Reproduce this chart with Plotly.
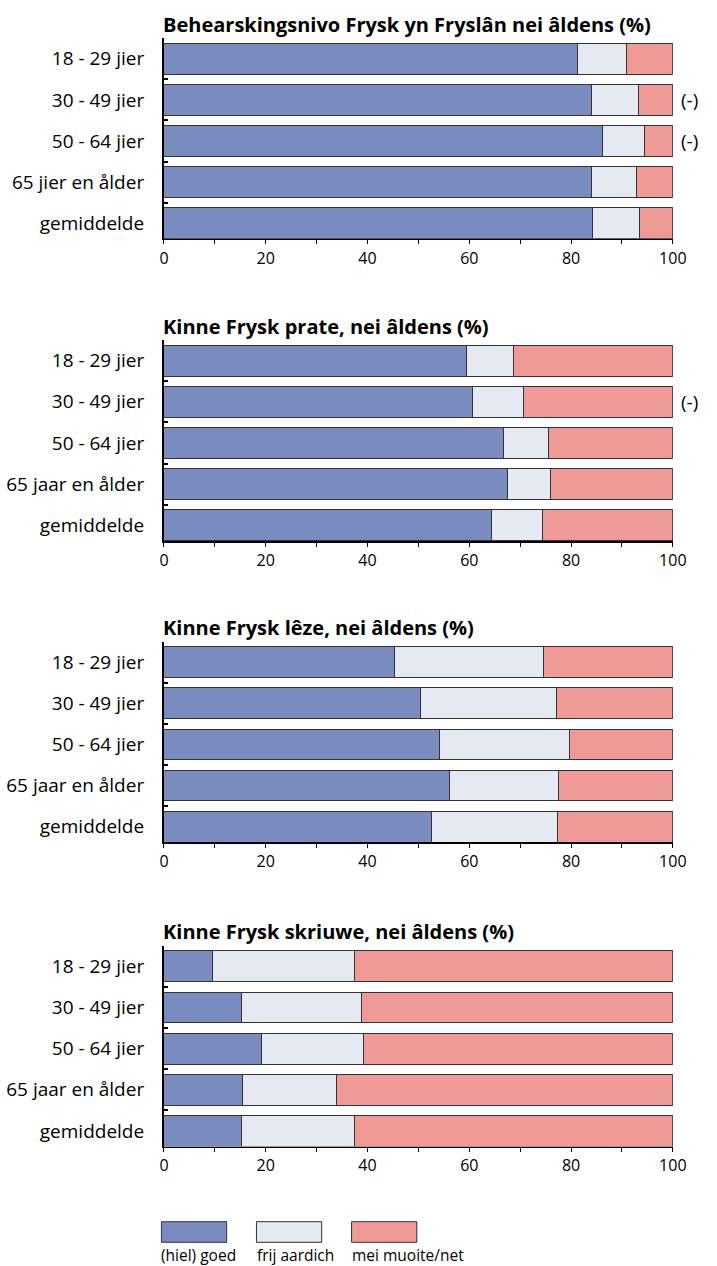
import plotly.graph_objects as go

W, H = 717, 1266

titles = [
    "Behearskingsnivo Frysk yn Fryslân nei âldens (%)",
    "Kinne Frysk prate, nei âldens (%)",
    "Kinne Frysk lêze, nei âldens (%)",
    "Kinne Frysk skriuwe, nei âldens (%)",
]
categories_1 = ["18 - 29 jier", "30 - 49 jier", "50 - 64 jier", "65 jier en ålder", "gemiddelde"]
categories_2 = ["18 - 29 jier", "30 - 49 jier", "50 - 64 jier", "65 jaar en ålder", "gemiddelde"]
series_names = ["(hiel) goed", "frij aardich", "mei muoite/net"]

# values per chart: good, fairly, with difficulty/not
good_1 = [81.3, 84.1, 86.2, 84.1, 84.2]
fair_1 = [9.6, 9.1, 8.3, 8.8, 9.2]
bad_1 = [9.1, 6.8, 5.5, 7.1, 6.6]

good_2 = [59.5, 60.6, 66.7, 67.6, 64.3]
fair_2 = [9.1, 10.0, 8.8, 8.3, 10.1]
bad_2 = [31.4, 29.4, 24.5, 24.1, 25.6]

good_3 = [45.4, 50.5, 54.1, 56.1, 52.6]
fair_3 = [29.2, 26.6, 25.6, 21.4, 24.7]
bad_3 = [25.4, 22.9, 20.3, 22.5, 22.7]

good_4 = [9.6, 15.2, 19.2, 15.5, 15.2]
fair_4 = [27.8, 23.7, 20.1, 18.5, 22.2]
bad_4 = [62.6, 61.1, 60.7, 66.0, 62.6]

dash_marks_1 = ["", "(-)", "(-)", "", ""]
dash_marks_2 = ["", "(-)", "", "", ""]
dash_marks_3 = ["", "", "", "", ""]
dash_marks_4 = ["", "", "", "", ""]

x_ticks = [0, 20, 40, 60, 80, 100]
x_minor = [10, 30, 50, 70, 90]

charts = [
    (titles[0], categories_1, good_1, fair_1, bad_1, dash_marks_1),
    (titles[1], categories_2, good_2, fair_2, bad_2, dash_marks_2),
    (titles[2], categories_2, good_3, fair_3, bad_3, dash_marks_3),
    (titles[3], categories_2, good_4, fair_4, bad_4, dash_marks_4),
]

colors = ["#7a8bc0", "#e5e9f2", "#f09a98"]
outline = "#333333"
FONT = "Open Sans"

# pixel layout (top, bottom of each plot area)
tops = [38.2, 340.0, 641.7, 945.8]
bottoms = [238.8, 541.0, 842.3, 1146.5]
x_left, x_right = 163.3, 686.0

fig = go.Figure()
annotations = []
shapes = []
layout = {}

for i, (title, cats, g, f, b, marks) in enumerate(charts):
    n = i + 1
    xa = "x" if n == 1 else f"x{n}"
    ya = "y" if n == 1 else f"y{n}"
    ypos = list(range(len(cats)))
    for vals, name, col in zip([g, f, b], series_names, colors):
        fig.add_trace(go.Bar(
            x=vals, y=ypos, orientation="h", name=name,
            marker=dict(color=col, line=dict(color=outline, width=1)),
            width=0.75, xaxis=xa, yaxis=ya, showlegend=False,
        ))
    xkey = "xaxis" if n == 1 else f"xaxis{n}"
    ykey = "yaxis" if n == 1 else f"yaxis{n}"
    layout[xkey] = dict(
        domain=[x_left / W, x_right / W], range=[0, 100], anchor=ya,
        tickvals=x_ticks, ticks="outside", ticklen=4, tickwidth=1, tickcolor="black",
        minor=dict(tickvals=x_minor, ticks="outside", ticklen=4, tickwidth=1, tickcolor="black"),
        showline=True, linecolor="black", linewidth=1.5, showgrid=False, zeroline=False,
        tickfont=dict(family=FONT, size=16, color="black"), fixedrange=True,
    )
    layout[ykey] = dict(
        domain=[1 - bottoms[i] / H, 1 - tops[i] / H], range=[4.38, -0.5], anchor=xa,
        tickvals=ypos, ticktext=cats, ticks="", ticklabelstandoff=14,
        minor=dict(tickvals=[0.5, 1.5, 2.5, 3.5], ticks="inside", ticklen=4, tickwidth=2, tickcolor="black"),
        showline=True, linecolor="black", linewidth=2, showgrid=False, zeroline=False,
        tickfont=dict(family=FONT, size=19, color="black"), fixedrange=True,
    )
    annotations.append(dict(
        text=f"<b>{title}</b>", xref="paper", yref="paper",
        x=160 / W, y=1 - (tops[i] - 14) / H, xanchor="left", yanchor="middle",
        showarrow=False, font=dict(family=FONT, size=20, color="black"),
    ))
    for yy, m in zip(ypos, marks):
        if m:
            annotations.append(dict(
                text=m, xref=xa, yref=ya, x=100, y=yy, xanchor="left", yanchor="middle",
                xshift=6, showarrow=False, font=dict(family=FONT, size=19, color="black"),
            ))

# legend drawn as boxes + labels
legend_box_x = [160.7, 258.3, 356.0]
for name, col, bx in zip(series_names, colors, legend_box_x):
    shapes.append(dict(
        type="rect", xref="paper", yref="paper",
        x0=bx / W, x1=(bx + 67) / W, y0=1 - 1242.3 / H, y1=1 - 1221.7 / H,
        fillcolor=col, line=dict(color=outline, width=1),
    ))
    annotations.append(dict(
        text=name, xref="paper", yref="paper", x=(bx - 2) / W, y=1 - 1255 / H,
        xanchor="left", yanchor="middle", showarrow=False,
        font=dict(family=FONT, size=15.5, color="black"),
    ))

fig.update_layout(
    width=W, height=H, autosize=False, margin=dict(l=0, r=0, t=0, b=0),
    paper_bgcolor="white", plot_bgcolor="white",
    barmode="stack", showlegend=False,
    annotations=annotations, shapes=shapes,
    **layout,
)

fig.write_html(
    "out.html",
    config={"responsive": False, "displayModeBar": False, "staticPlot": True},
    post_script=(
        "document.documentElement.style.overflow='hidden';"
        "document.body.style.overflow='hidden';"
        "document.body.style.margin='0';"
    ),
)
